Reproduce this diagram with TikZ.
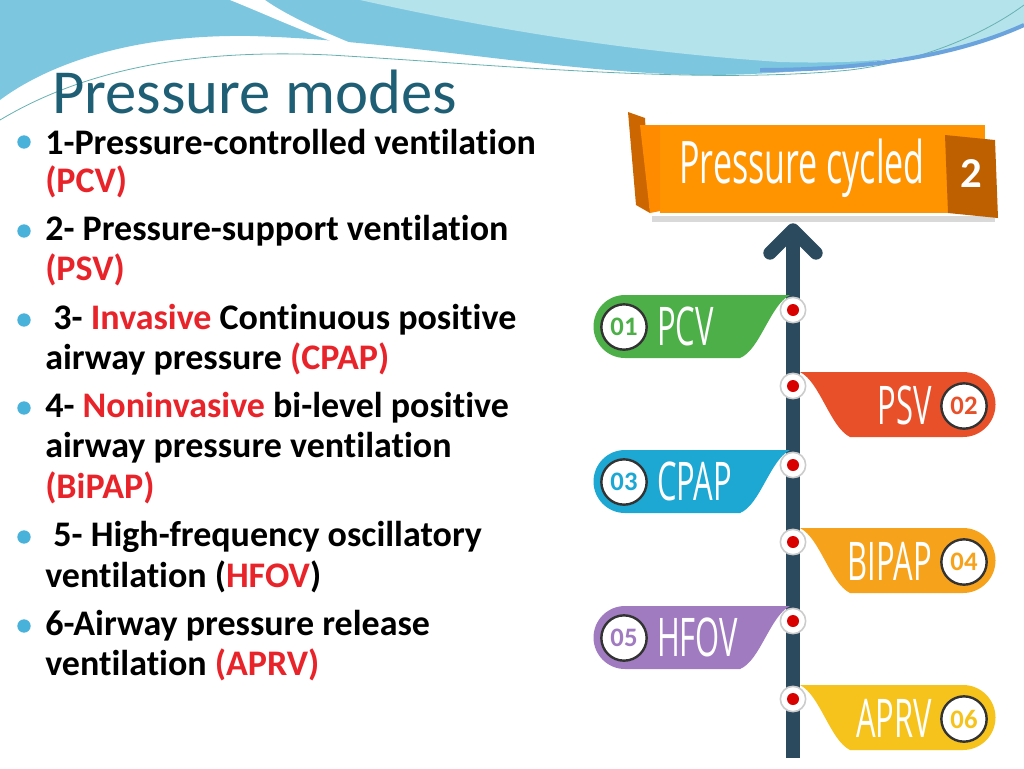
\documentclass[tikz,border=0pt]{standalone}
\usepackage{fontspec}
\setmainfont{Carlito}[Ligatures={NoCommon,NoContextual}]
\newfontfamily\tagfont{Open Sans}
\begin{document}
\begin{tikzpicture}[x=0.75pt,y=-0.75pt,
  item/.style={anchor=west,font=\fontsize{27}{30}\selectfont\bfseries,text=black,inner sep=0},
  bul/.style={circle,fill=cyan!70!teal!80,minimum size=10pt,inner sep=0},
  dotn/.style={circle,draw=black!20,line width=1.2pt,fill=white,minimum size=19pt,inner sep=0,
     path picture={\fill[red!85!black] (path picture bounding box.center) circle (4.5pt);}},
  numc/.style={circle,draw=black!80,line width=1.8pt,fill=white,minimum size=34pt,inner sep=0,font=\fontsize{20}{20}\selectfont\bfseries},
  tagtxt/.style={text=white,font=\tagfont\fontsize{40}{40}\selectfont,xscale=0.58,inner sep=0}]
\definecolor{red1}{HTML}{E8242A}
\definecolor{gr}{HTML}{4CAF47}
\definecolor{rd}{HTML}{E8502A}
\definecolor{bl}{HTML}{1DA7D3}
\definecolor{og}{HTML}{F7A21B}
\definecolor{pu}{HTML}{A07BC0}
\definecolor{ye}{HTML}{F6C21C}
\definecolor{pole}{HTML}{2B4A5E}
\definecolor{ttl}{HTML}{1F5F75}
\definecolor{wv1}{HTML}{7CC6E0}
\definecolor{wv2}{HTML}{B5E3EC}
\useasboundingbox (0,0) rectangle (1024,768);
\fill[white] (0,0) rectangle (1024,768);
% top waves
\fill[wv1] (0,0) -- (1024,0) -- (1024,20) .. controls (950,50) and (850,75) .. (700,75)
  .. controls (550,72) and (400,40) .. (250,36) .. controls (120,34) and (40,70) .. (0,100) -- cycle;
\fill[wv2] (360,0) -- (1024,0) -- (1024,25) .. controls (960,55) and (880,65) .. (780,62)
  .. controls (600,50) and (450,20) .. (360,0) -- cycle;
\fill[white] (230,0) .. controls (280,20) and (330,45) .. (400,62) .. controls (340,40) and (290,18) .. (265,0) -- cycle;
\draw[teal!60,line width=0.6pt] (0,120) .. controls (100,60) and (220,50) .. (330,55) .. controls (500,65) and (700,85) .. (850,70) .. controls (930,60) and (990,30) .. (1024,5);
\draw[cyan!60!blue!60,line width=3pt] (760,70) .. controls (900,70) and (980,45) .. (1024,25);
% title
\node[anchor=west,inner sep=0,text=ttl,font=\fontsize{47}{48}\selectfont] (title) at (52,92) {Pressure modes};
% items
\foreach \y in {142,231,320,408,537,626} \node[bul] at (24,\y) {};
\node[item] (t1) at (45,142) {1-Pressure-controlled ventilation};
\node[item,text=red1] (t1b) at (45,182) {(PCV)};
\node[item] (t2) at (45,231) {2- Pressure-support ventilation};
\node[item,text=red1] (t2b) at (45,270) {(PSV)};
\node[item] (t3) at (45,320) {\ 3- \textcolor{red1}{Invasive} Continuous positive};
\node[item] (t3b) at (45,359) {airway pressure \textcolor{red1}{(CPAP)}};
\node[item] (t4) at (45,408) {4- \textcolor{red1}{Noninvasive} bi-level positive};
\node[item] (t4b) at (45,448) {airway pressure ventilation};
\node[item,text=red1] (t4c) at (45,488) {(BiPAP)};
\node[item] (t5) at (45,537) {\ 5- High-frequency oscillatory};
\node[item] (t5b) at (45,577) {ventilation (\textcolor{red1}{HFOV})};
\node[item] (t6) at (45,626) {6-Airway pressure release};
\node[item] (t6b) at (45,665) {ventilation \textcolor{red1}{(APRV)}};
% banner
\fill[orange!80!black] (628,112) -- (645,118) -- (650,213) -- (636,205) -- cycle;
\fill[orange!90!yellow] (640,125) -- (665,125) -- (665,210) -- (650,213) -- cycle;
\fill[black!15] (652,216) rectangle (995,222);
\fill[orange!85!yellow] (660,125) rectangle (985,213);
\fill[orange!75!black] (945,135) -- (995,140) -- (998,218) -- (948,213) -- cycle;
\node[tagtxt,font=\tagfont\fontsize{44}{44}\selectfont] (ban) at (802,168) {Pressure cycled};
\node[text=white,font=\fontsize{32}{32}\selectfont\bfseries,inner sep=0] (two) at (971,174) {2};
% pole
\coordinate (ptop) at (793,230);
\coordinate (pbot) at (793,758);
\draw[pole,line width=10pt] (pbot) -- (793,236);
\draw[pole,line width=10pt,line cap=round,line join=round] (770,253) -- (ptop) -- (816,253);
% left tags
\foreach \c/\y/\n/\t in {gr/295/01/PCV,bl/450/03/CPAP,pu/606/05/HFOV}{
  \fill[\c] (625,\y) -- (790,\y) .. controls (770,\y+10) and (760,\y+55) .. (740,\y+63) -- (625,\y+63) arc (90:270:31.5) -- cycle;
  \node[numc,text=\c] at (624,\y+32) {\n};
  \node[tagtxt,anchor=west] at (657,\y+31) {\t};
  \node[dotn] at (793,\y+15) {};
}
% right tags
\foreach \c/\y/\n/\t in {rd/372/02/PSV,og/528/04/BIPAP,ye/685/06/APRV}{
  \fill[\c] (963,\y) -- (800,\y) .. controls (820,\y+10) and (830,\y+55) .. (850,\y+65) -- (963,\y+65) arc (90:-90:32.5) -- cycle;
  \node[numc,text=\c] at (964,\y+34) {\n};
  \node[tagtxt,anchor=east] at (932,\y+33) {\t};
  \node[dotn] at (793,\y+14) {};
}
\end{tikzpicture}
\end{document}
